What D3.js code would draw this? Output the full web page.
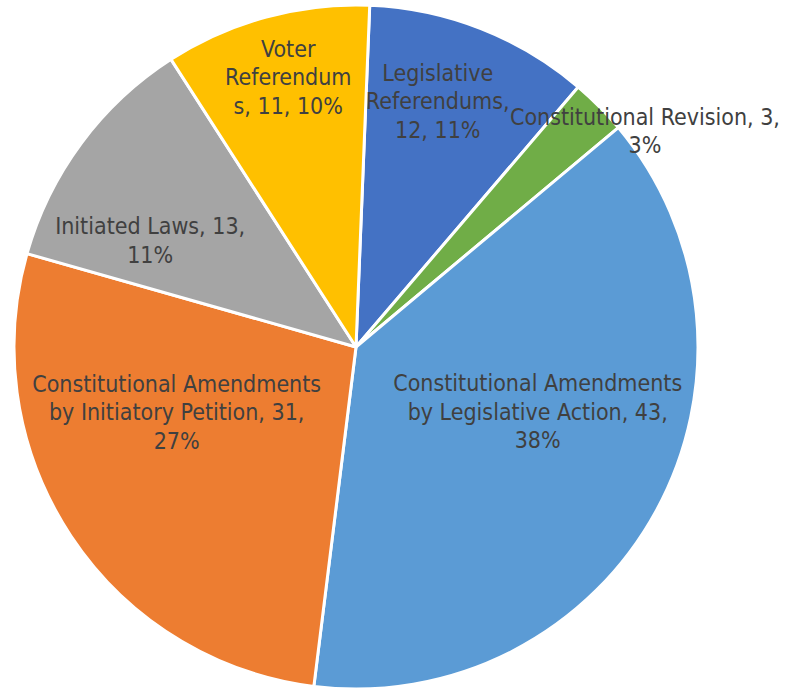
<!DOCTYPE html>
<html>
<head>
<meta charset="utf-8">
<script src="https://cdn.jsdelivr.net/npm/d3@7"></script>
<style>
  html, body { margin: 0; padding: 0; background: #fff; }
  svg { display: block; }
  .lbl { font-family: "DejaVu Sans Condensed", "DejaVu Sans", sans-serif; font-size: 23px; fill: #404040; }
</style>
</head>
<body>
<div id="chart"></div>
<script>
// chart data, clockwise from the top
var categories = ["Legislative Referendums", "Constitutional Revision",
    "Constitutional Amendments by Legislative Action",
    "Constitutional Amendments by Initiatory Petition",
    "Initiated Laws", "Voter Referendums"];
var values = [12, 3, 43, 31, 13, 11];
var percents = ["11%", "3%", "38%", "27%", "11%", "10%"];
var colors = ["#4472C4", "#70AD47", "#5B9BD5", "#ED7D31", "#A5A5A5", "#FFC000"];

// how the labels wrap in the original
var labelLines = [
    ["Legislative", "Referendums,", "12, 11%"],
    ["Constitutional Revision, 3,", "3%"],
    ["Constitutional Amendments", "by Legislative Action, 43,", "38%"],
    ["Constitutional Amendments", "by Initiatory Petition, 31,", "27%"],
    ["Initiated Laws, 13,", "11%"],
    ["Voter", "Referendum", "s, 11, 10%"]
];

const w = 785;
const h = 688;
var cx = 356, cy = 347, r = 342;
var startAngle = 2.3 * Math.PI / 180;

// label placement (angle in degrees from top, radius as fraction of r)
var labelPolar = [[18.4, 0.757], [53.2, 1.055], [109.6, 0.564], [250, 0.558], [297.4, 0.678], [345.9, 0.813]];
var lineH = 28.5;

var svg = d3.select("#chart").append("svg")
    .attr("width", w)
    .attr("height", h);

var g = svg.append("g")
    .attr("transform", "translate(" + cx + "," + cy + ")");

var data = values.map(function(v, i) {
    return { name: categories[i], value: v, pct: percents[i], color: colors[i], lines: labelLines[i], i: i };
});

var pie = d3.pie()
    .sort(null)
    .value(function(d) { return d.value; })
    .startAngle(startAngle)
    .endAngle(startAngle + 2 * Math.PI);

var arc = d3.arc().innerRadius(0).outerRadius(r);

var arcs = pie(data);

g.append("g").selectAll("path")
    .data(arcs)
    .enter()
    .append("path")
    .attr("d", arc)
    .attr("fill", function(d) { return d.data.color; })
    .attr("stroke", "#fff")
    .attr("stroke-width", 3)
    .attr("stroke-linejoin", "round");

var label = g.append("g").selectAll("text")
    .data(arcs)
    .enter()
    .append("text")
    .attr("class", "lbl")
    .attr("text-anchor", "middle")
    .attr("transform", function(d) {
        var p = labelPolar[d.data.i];
        var a = p[0] * Math.PI / 180;
        var rr = p[1] * r;
        return "translate(" + (rr * Math.sin(a)) + "," + (-rr * Math.cos(a)) + ")";
    });

label.each(function(d) {
    var t = d3.select(this);
    var n = d.data.lines.length;
    d.data.lines.forEach(function(line, k) {
        t.append("tspan")
            .attr("x", 0)
            .attr("y", (k - (n - 1) / 2) * lineH)
            .attr("dy", "0.35em")
            .text(line);
    });
});
</script>
</body>
</html>
